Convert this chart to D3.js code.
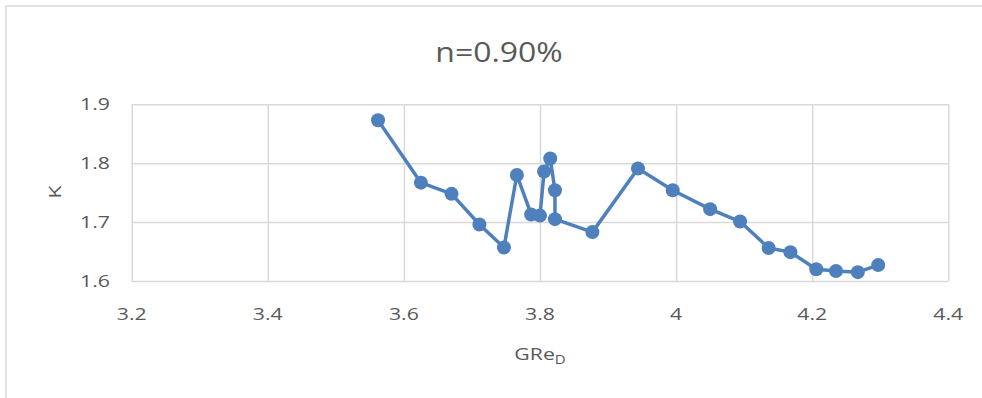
<!DOCTYPE html>
<html>
<head>
<meta charset="utf-8">
<script src="https://cdn.jsdelivr.net/npm/d3@7/dist/d3.min.js"></script>
<style>
  html, body { margin: 0; padding: 0; background: #fff; }
  svg { display: block; }
  text { font-family: "Open Sans", "Noto Sans", sans-serif; fill: #595959; }
</style>
</head>
<body>
<svg id="chart" width="982" height="398"></svg>
<script>
const title = "n=0.90%";
const xLabel = "GRe";
const xLabelSub = "D";
const yLabel = "K";
const xValues = [3.562, 3.625, 3.670, 3.711, 3.747, 3.766, 3.787, 3.800, 3.806, 3.815, 3.822, 3.822,
                 3.877, 3.944, 3.995, 4.050, 4.094, 4.136, 4.168, 4.206, 4.235, 4.267, 4.297];
const yValues = [1.873, 1.767, 1.748, 1.696, 1.657, 1.780, 1.713, 1.711, 1.786, 1.808, 1.754, 1.705,
                 1.683, 1.791, 1.754, 1.722, 1.701, 1.656, 1.649, 1.620, 1.617, 1.615, 1.627];
const xTicks = [3.2, 3.4, 3.6, 3.8, 4.0, 4.2, 4.4];
const yTicks = [1.6, 1.7, 1.8, 1.9];

const svg = d3.select("#chart");
const grid = "#d9d9d9";
const blue = "#4e80bd";

// chart frame
svg.append("rect").attr("x", 6).attr("y", 6).attr("width", 1000).attr("height", 420)
  .attr("fill", "none").attr("stroke", grid).attr("stroke-width", 1.5);

const x = d3.scaleLinear().domain([3.2, 4.4]).range([131.7, 948.3]);
const y = d3.scaleLinear().domain([1.6, 1.9]).range([281, 104.3]);

// gridlines
const gx = svg.append("g").attr("transform", `translate(0,${y(1.6)})`)
  .call(d3.axisBottom(x).tickValues(xTicks).tickSize(-(y(1.6) - y(1.9))).tickFormat(""));
const gy = svg.append("g").attr("transform", `translate(${x(3.2)},0)`)
  .call(d3.axisLeft(y).tickValues(yTicks).tickSize(-(x(4.4) - x(3.2))).tickFormat(""));
svg.selectAll(".domain").remove();
svg.selectAll(".tick line").attr("stroke", grid).attr("stroke-width", 1.5);

// tick labels
const fmt = d => String(+d.toFixed(1));
xTicks.forEach(t => {
  svg.append("g").attr("transform", `translate(${x(t)},320) scale(1.25,1)`)
    .append("text").attr("text-anchor", "middle").attr("font-size", 17).text(fmt(t));
});
yTicks.forEach(t => {
  svg.append("g").attr("transform", `translate(110,${y(t) + 6}) scale(1.25,1)`)
    .append("text").attr("text-anchor", "end").attr("font-size", 17).text(fmt(t));
});

// title
svg.append("g").attr("transform", "translate(499,61.5) scale(1.14,1)")
  .append("text").attr("text-anchor", "middle").attr("font-size", 28).text(title);

// axis titles
const xt = svg.append("g").attr("transform", "translate(540,360) scale(1.25,1)")
  .append("text").attr("text-anchor", "middle").attr("font-size", 17);
xt.append("tspan").text(xLabel);
xt.append("tspan").attr("font-size", 12).attr("dy", 4).text(xLabelSub);

svg.append("g").attr("transform", "translate(61,192) rotate(-90) scale(1.25,1)")
  .append("text").attr("text-anchor", "middle").attr("font-size", 17).text(yLabel);

// series
const pts = xValues.map((v, i) => [v, yValues[i]]);
svg.append("path").datum(pts)
  .attr("fill", "none").attr("stroke", blue).attr("stroke-width", 3.5).attr("stroke-linejoin", "round")
  .attr("d", d3.line().x(d => x(d[0])).y(d => y(d[1])));
svg.selectAll("circle.pt").data(pts).enter().append("circle")
  .attr("class", "pt").attr("cx", d => x(d[0])).attr("cy", d => y(d[1])).attr("r", 7)
  .attr("fill", blue);
</script>
</body>
</html>
